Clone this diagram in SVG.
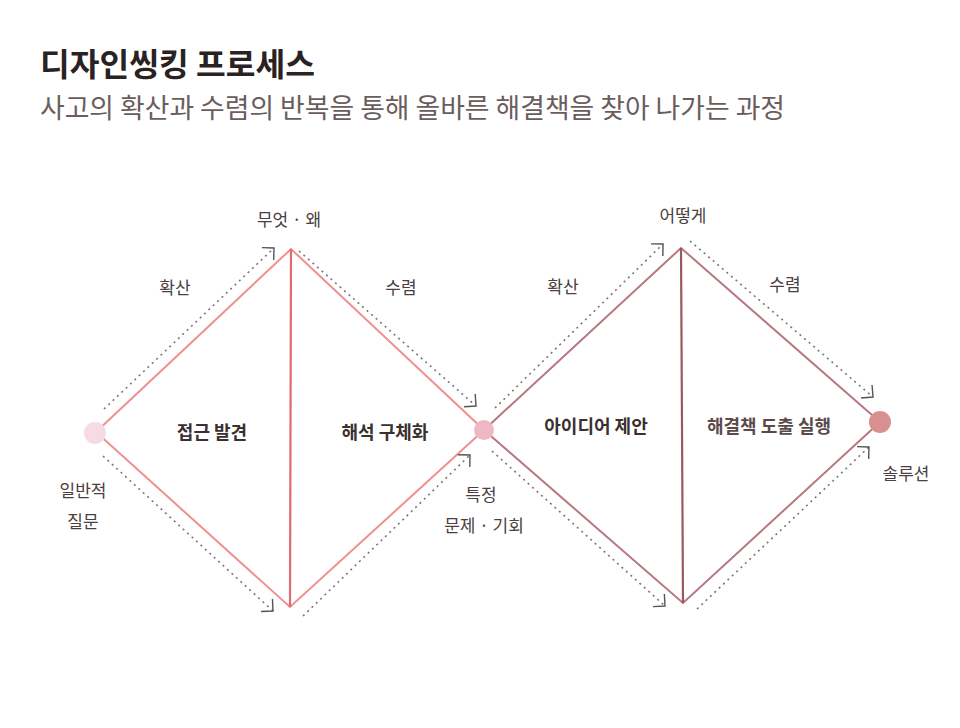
<svg xmlns="http://www.w3.org/2000/svg" width="960" height="728" viewBox="0 0 960 728">
<defs>
<style>
text{font-family:'Noto Sans CJK KR','Noto Sans',sans-serif;}
.title{font-size:32px;font-weight:bold;fill:#2a2222;}
.sub{font-size:27px;fill:#6a5d5d;}
.lbl{font-size:17px;fill:#4a4040;text-anchor:middle;}
.node{font-size:18px;font-weight:bold;fill:#3a3030;text-anchor:middle;}
.node2{font-size:18px;font-weight:bold;fill:#5a4a4a;text-anchor:middle;}
.e1{stroke:#ee9090;stroke-width:2;fill:none;}
.v1{stroke:#e06a70;stroke-width:2.2;fill:none;}
.e2{stroke:#b87880;stroke-width:2;fill:none;}
.v2{stroke:#9a5860;stroke-width:2.2;fill:none;}
.dot{stroke:#777;stroke-width:1.6;stroke-dasharray:2 4;fill:none;marker-end:url(#br);}
</style>
<marker id="br" markerUnits="userSpaceOnUse" markerWidth="20" markerHeight="20" refX="10" refY="10" orient="auto" viewBox="0 0 20 20">
<path d="M1.5,1.5 L10,10 L1.5,18.5" stroke="#555" stroke-width="1.4" fill="none"/>
</marker>
</defs>
<rect width="960" height="728" fill="#ffffff"/>
<text class="title" x="40" y="76" textLength="275" lengthAdjust="spacingAndGlyphs">디자인씽킹 프로세스</text>
<text class="sub" x="40" y="118" textLength="745" lengthAdjust="spacingAndGlyphs">사고의 확산과 수렴의 반복을 통해 올바른 해결책을 찾아 나가는 과정</text>

<g id="connectors">
<path class="e1" d="M96,432 L291,249 L484,430 L290,607 Z"/>
<path class="v1" d="M291,249 L290,607"/>
<path class="e2" d="M484,430 L681,248 L880,422 L683,603 Z"/>
<path class="v2" d="M681,248 L683,603"/>
<path class="dot" d="M104,409 L274,248"/>
<path class="dot" d="M299,251 L476,406"/>
<path class="dot" d="M103,456 L273,611"/>
<path class="dot" d="M303,616 L470,455"/>
<path class="dot" d="M495,408 L663,244"/>
<path class="dot" d="M690,241 L873,397"/>
<path class="dot" d="M492,451 L665,606"/>
<path class="dot" d="M697,609 L869,447"/>
</g>

<g id="start"><circle cx="95" cy="433" r="11" fill="#f7dbe4"/>
<text class="lbl" x="83" y="497">일반적</text><text class="lbl" x="83" y="528">질문</text></g>
<g id="mid"><circle cx="484" cy="430" r="10" fill="#efb7c3"/>
<text class="lbl" x="481" y="501">특정</text><text class="lbl" x="484" y="532">문제 · 기회</text></g>
<g id="end"><circle cx="880" cy="422" r="11" fill="#d88f8f"/>
<text class="lbl" x="906" y="480">솔루션</text></g>
<g id="top1"><text class="lbl" x="289" y="226">무엇 · 왜</text></g>
<g id="top2"><text class="lbl" x="683" y="222">어떻게</text></g>
<g id="lab-a"><text class="lbl" x="175" y="294">확산</text></g>
<g id="lab-b"><text class="lbl" x="401" y="294">수렴</text></g>
<g id="lab-c"><text class="lbl" x="563" y="293">확산</text></g>
<g id="lab-d"><text class="lbl" x="785" y="291">수렴</text></g>
<g id="n1"><text class="node" x="212" y="439">접근 발견</text></g>
<g id="n2"><text class="node" x="385" y="439">해석 구체화</text></g>
<g id="n3"><text class="node" x="596" y="433">아이디어 제안</text></g>
<g id="n4"><text class="node2" x="769" y="433">해결책 도출 실행</text></g>
</svg>
